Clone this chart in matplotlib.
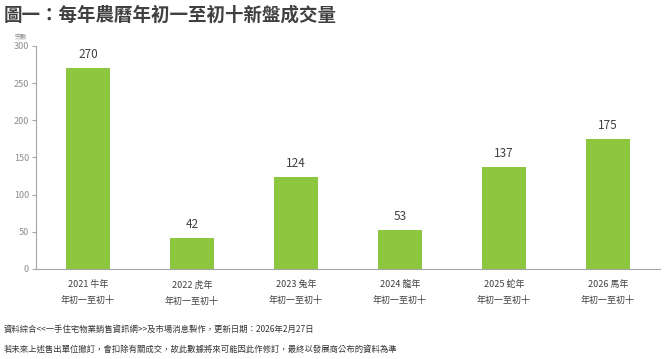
"""
Bar chart: new-home transactions during the first ten days of each lunar new year.
"""

import matplotlib
matplotlib.use("Agg")
import matplotlib.pyplot as plt

plt.rcParams['font.family'] = ['Noto Sans CJK TC', 'DejaVu Sans']

# Data
years = ["2021 牛年", "2022 虎年", "2023 兔年", "2024 龍年", "2025 蛇年", "2026 馬年"]
period = "年初一至初十"
deals = [270, 42, 124, 53, 137, 175]
y_ticks = [0, 50, 100, 150, 200, 250, 300]

TITLE = "圖一：每年農曆年初一至初十新盤成交量"
NOTE_1 = "資料綜合<<一手住宅物業銷售資訊網>>及市場消息製作，更新日期：2026年2月27日"
NOTE_2 = "若未來上述售出單位撤訂，會扣除有關成交，故此數據將來可能因此作修訂，最終以發展商公布的資料為準"

BAR_COLOR = "#8DC63F"
AXIS_COLOR = "#A6A6A6"


def main():
    fig = plt.figure(figsize=(6.67, 3.59), dpi=100)
    ax = fig.add_axes([0.054, 0.2507, 0.9355, 0.6213])

    x = range(len(years))
    ax.bar(x, deals, width=0.42, color=BAR_COLOR, zorder=2)

    # value labels above bars
    for xi, v in zip(x, deals):
        ax.annotate(str(v), (xi, v), xytext=(0, 5), textcoords="offset points",
                    ha="center", va="bottom", fontsize=8.5, color="#404040")

    ax.set_xlim(-0.5, len(years) - 0.5)
    ax.set_ylim(0, 300)
    ax.set_yticks(y_ticks)
    ax.tick_params(axis="y", labelsize=6.5, labelcolor="#8C8C8C", color=AXIS_COLOR,
                   length=3, width=0.8, pad=2)
    ax.set_xticks(list(x))
    ax.set_xticklabels([f"{y}\n{period}" for y in years], fontsize=6.5,
                       color="#404040", linespacing=2.0)
    ax.tick_params(axis="x", length=0, pad=8)

    for side in ("top", "right"):
        ax.spines[side].set_visible(False)
    for side in ("left", "bottom"):
        ax.spines[side].set_color(AXIS_COLOR)
        ax.spines[side].set_linewidth(0.8)

    fig.text(0.022, 0.897, "宗數", fontsize=4.5, color="#8C8C8C",
             ha="left", va="center")

    fig.text(0.006, 0.958, TITLE, fontsize=13.3, fontweight="bold",
             color="#404040", ha="left", va="center")

    fig.text(0.005, 0.083, NOTE_1, fontsize=6.0, color="#333333",
             ha="left", va="center")
    fig.text(0.005, 0.027, NOTE_2, fontsize=6.0, color="#333333",
             ha="left", va="center")

    fig.savefig("out.png", dpi=100)


if __name__ == "__main__":
    main()
